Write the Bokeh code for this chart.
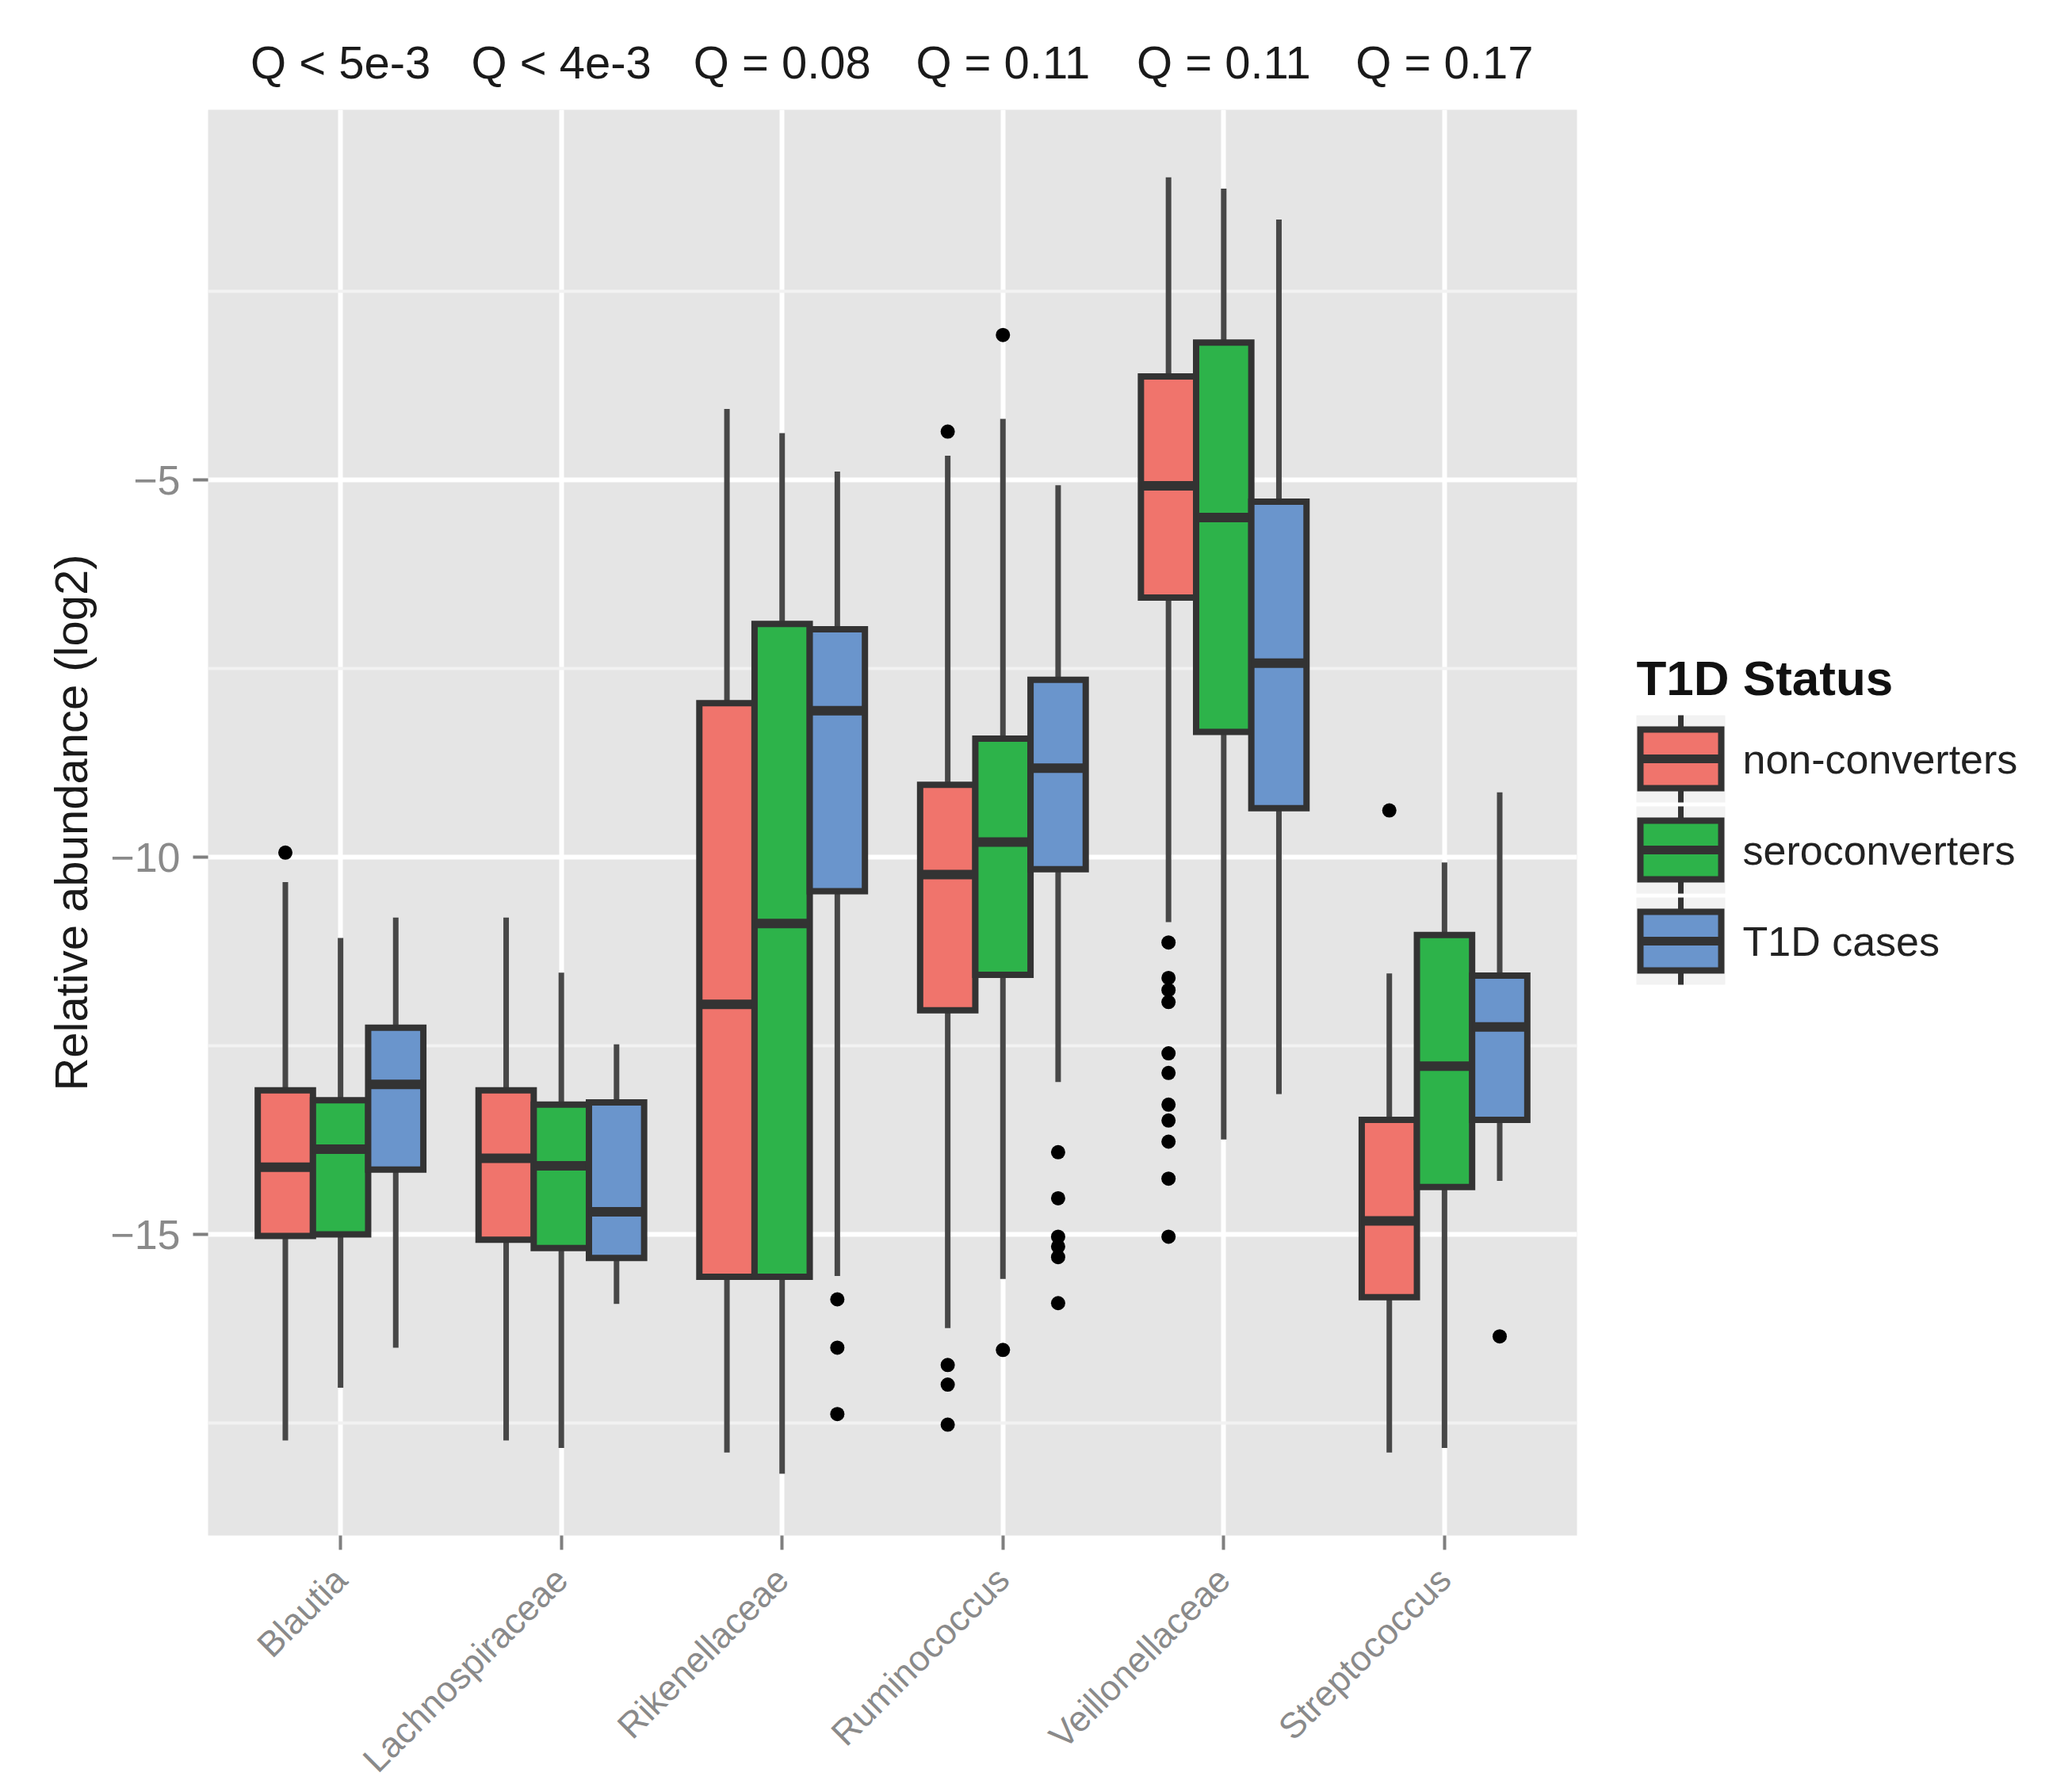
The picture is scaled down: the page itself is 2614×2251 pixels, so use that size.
import math
from bokeh.plotting import figure
from bokeh.models import Range1d, FixedTicker, LinearAxis
from bokeh.layouts import gridplot
from bokeh.embed import file_html
from bokeh.resources import INLINE
from bokeh.core.properties import value

FONT = "Liberation Sans"

# ---------------- data ----------------
taxa = ["Blautia", "Lachnospiraceae", "Rikenellaceae", "Ruminococcus",
        "Veillonellaceae", "Streptococcus"]
q_labels = ["Q < 5e-3", "Q < 4e-3", "Q = 0.08", "Q = 0.11", "Q = 0.11", "Q = 0.17"]
groups = ["non-converters", "seroconverters", "T1D cases"]
colors = ["#F0746C", "#2DB34A", "#6A95CC"]

y_ticks = [-15, -10, -5]
y_tick_labels = ["\u221215", "\u221210", "\u22125"]
y_minor = [-17.5, -12.5, -7.5, -2.5]

# non-converters
nc_low = [-17.73, -17.73, -17.89, -16.24, -10.86, -17.89]
nc_q1 = [-15.02, -15.07, -15.56, -12.03, -6.56, -15.83]
nc_med = [-14.11, -13.99, -11.95, -10.23, -5.08, -14.82]
nc_q3 = [-13.09, -13.09, -7.96, -9.04, -3.63, -13.48]
nc_high = [-10.33, -10.80, -4.06, -4.68, -0.99, -11.54]
nc_out = [[-9.94], [], [], [-4.36, -16.73, -16.99, -17.52],
          [-11.13, -11.60, -11.76, -11.92, -12.60, -12.86, -13.28, -13.49,
           -13.77, -14.26, -15.03],
          [-9.38]]

# seroconverters
sc_low = [-17.03, -17.83, -18.17, -15.59, -13.74, -17.83]
sc_q1 = [-15.00, -15.18, -15.56, -11.56, -8.34, -14.37]
sc_med = [-13.87, -14.09, -10.88, -9.80, -5.50, -12.77]
sc_q3 = [-13.22, -13.28, -6.91, -8.43, -3.18, -11.03]
sc_high = [-11.07, -11.53, -4.38, -4.19, -1.14, -10.07]
sc_out = [[], [], [], [-3.08, -16.53], [], []]

# T1D cases
t1_low = [-16.50, -15.92, -15.55, -12.98, -13.14, -14.29]
t1_q1 = [-14.14, -15.31, -10.45, -10.16, -9.35, -13.48]
t1_med = [-13.01, -14.70, -8.06, -8.82, -7.43, -12.25]
t1_q3 = [-12.26, -13.25, -6.98, -7.65, -5.29, -11.57]
t1_high = [-10.80, -12.48, -4.89, -5.07, -1.55, -9.14]
t1_out = [[], [], [-15.86, -16.50, -17.38],
          [-13.91, -14.52, -15.03, -15.16, -15.30, -15.91], [], [-16.35]]

stats = [
    (nc_low, nc_q1, nc_med, nc_q3, nc_high, nc_out),
    (sc_low, sc_q1, sc_med, sc_q3, sc_high, sc_out),
    (t1_low, t1_q1, t1_med, t1_q3, t1_high, t1_out),
]

# ---------------- layout constants ----------------
TOTAL_W, TOTAL_H = 2614, 2251
BL, BR, BT, BB = 262, 50, 138, 22      # borders of the main panel
FRAME_H = 1799
MAIN_W = 2039
MAIN_H = BT + FRAME_H + BB
LEG_W = TOTAL_W - MAIN_W
LAB_H = TOTAL_H - MAIN_H
DODGE = 0.25
BOX_W = 0.25
EDGE = "#333333"
WHISK = "#474747"

p = figure(width=MAIN_W, height=MAIN_H, x_range=Range1d(0.4, 6.6),
           y_range=Range1d(-18.99, -0.095), output_backend="svg",
           toolbar_location=None, min_border_left=BL, min_border_right=BR,
           min_border_top=BT, min_border_bottom=BB)
p.background_fill_color = "#E5E5E5"
p.border_fill_color = "white"
p.outline_line_color = None

cat_ticks = list(range(1, len(taxa) + 1))

# bottom axis: ticks only (labels drawn in the strip below)
xa = p.xaxis[0]
xa.ticker = FixedTicker(ticks=cat_ticks)
xa.major_label_overrides = {t: "" for t in cat_ticks}
xa.major_label_text_font_size = "0px"
xa.major_label_standoff = 0
xa.axis_line_color = None
xa.major_tick_line_color = "#7F7F7F"
xa.major_tick_line_width = 4
xa.major_tick_out = 18
xa.major_tick_in = 0
xa.minor_tick_line_color = None

# left axis
ya = p.yaxis[0]
ya.ticker = FixedTicker(ticks=y_ticks, minor_ticks=y_minor)
ya.major_label_overrides = {t: s for t, s in zip(y_ticks, y_tick_labels)}
ya.major_label_text_font = FONT
ya.major_label_text_font_size = "52px"
ya.major_label_text_color = "#8A8A8A"
ya.major_label_standoff = 16
ya.axis_line_color = None
ya.major_tick_line_color = "#7F7F7F"
ya.major_tick_line_width = 4
ya.major_tick_out = 19
ya.major_tick_in = 0
ya.minor_tick_line_color = None
ya.axis_label = "Relative abundance (log2)"
ya.axis_label_text_font = FONT
ya.axis_label_text_font_size = "58px"
ya.axis_label_text_font_style = "normal"
ya.axis_label_text_color = "#1A1A1A"
ya.axis_label_standoff = 14

# top axis with Q values
top = LinearAxis(ticker=FixedTicker(ticks=cat_ticks),
                 major_label_overrides={t: q for t, q in zip(cat_ticks, q_labels)})
top.axis_line_color = None
top.major_tick_line_color = None
top.minor_tick_line_color = None
top.major_label_text_font = FONT
top.major_label_text_font_size = "58px"
top.major_label_text_color = "#1A1A1A"
top.major_label_standoff = 22
p.add_layout(top, "above")

# grids
p.xgrid.ticker = FixedTicker(ticks=cat_ticks)
p.xgrid.grid_line_color = "white"
p.xgrid.grid_line_width = 6
p.ygrid.ticker = FixedTicker(ticks=y_ticks, minor_ticks=y_minor)
p.ygrid.grid_line_color = "white"
p.ygrid.grid_line_width = 6
p.ygrid.minor_grid_line_color = "#F2F2F2"
p.ygrid.minor_grid_line_width = 4

# boxplots
for g, (low, q1, med, q3, high, outs) in enumerate(stats):
    xs = [i + 1 + (g - 1) * DODGE for i in range(len(taxa))]
    ox, oy = [], []
    for x, o in zip(xs, outs):
        ox += [x] * len(o)
        oy += o
    p.scatter(ox, oy, size=18, color="black", line_color=None)
    p.segment(x0=xs, y0=low, x1=xs, y1=q1, line_color=WHISK, line_width=7)
    p.segment(x0=xs, y0=q3, x1=xs, y1=high, line_color=WHISK, line_width=7)

for g, (low, q1, med, q3, high, outs) in enumerate(stats):
    xs = [i + 1 + (g - 1) * DODGE for i in range(len(taxa))]
    p.vbar(x=xs, width=BOX_W, bottom=q1, top=q3, fill_color=colors[g],
           line_color=EDGE, line_width=8, line_join="miter")
    p.segment(x0=[x - BOX_W / 2 for x in xs], y0=med,
              x1=[x + BOX_W / 2 for x in xs], y1=med,
              line_color=EDGE, line_width=12)

# ---------------- x tick labels strip (shares the x scale) ----------------
lab = figure(width=MAIN_W, height=LAB_H, x_range=p.x_range, y_range=Range1d(LAB_H, 0),
             output_backend="svg", toolbar_location=None,
             min_border_left=BL, min_border_right=BR, min_border_top=0, min_border_bottom=0,
             x_axis_location=None, y_axis_location=None)
lab.grid.visible = False
lab.outline_line_color = None
lab.background_fill_color = "white"
lab.border_fill_color = "white"
lab.text(x=cat_ticks, y=[26] * len(cat_ticks), text=taxa, angle=math.pi / 4,
         text_font=value(FONT), text_font_size="45px", text_color="#8A8A8A",
         text_align="right", text_baseline="middle")

# ---------------- legend panel (image coordinates) ----------------
lg = figure(width=LEG_W, height=MAIN_H, x_range=Range1d(MAIN_W, TOTAL_W),
            y_range=Range1d(BT + FRAME_H, BT), output_backend="svg",
            toolbar_location=None, min_border_left=0, min_border_right=0,
            min_border_top=BT, min_border_bottom=BB,
            x_axis_location=None, y_axis_location=None)
lg.grid.visible = False
lg.outline_line_color = None
lg.background_fill_color = "white"
lg.border_fill_color = "white"

KX = 2064        # key left
KW = 112         # key width
KH = 110         # key height
KSTEP = 115      # distance between key centres
KY0 = 957        # first key centre
BOXH = 74
LBLX = 2198
TITLEY = 855

kc = [KY0 + k * KSTEP for k in range(len(groups))]
kx = KX + KW / 2
lg.rect(x=[kx] * 3, y=kc, width=KW, height=KH, fill_color="#F2F2F2", line_color=None)
lg.segment(x0=[kx] * 3, y0=[c - KH / 2 for c in kc], x1=[kx] * 3,
           y1=[c + KH / 2 for c in kc], line_color="#333333", line_width=7)
lg.rect(x=[kx] * 3, y=kc, width=KW - 10, height=BOXH, fill_color=colors,
        line_color=EDGE, line_width=8, line_join="miter")
lg.segment(x0=[kx - (KW - 10) / 2] * 3, y0=kc, x1=[kx + (KW - 10) / 2] * 3, y1=kc,
           line_color=EDGE, line_width=11)
lg.text(x=[LBLX] * 3, y=kc, text=groups, text_font=value(FONT),
        text_font_size="52px", text_color="#222222", text_baseline="middle",
        text_align="left")
lg.text(x=[KX], y=[TITLEY], text=["T1D Status"], text_font=value(FONT),
        text_font_size="62px", text_font_style="bold", text_color="#111111",
        text_baseline="middle", text_align="left")

layout = gridplot([[p, lg], [lab, None]], toolbar_location=None)
open("out.html", "w").write(file_html(layout, INLINE))
